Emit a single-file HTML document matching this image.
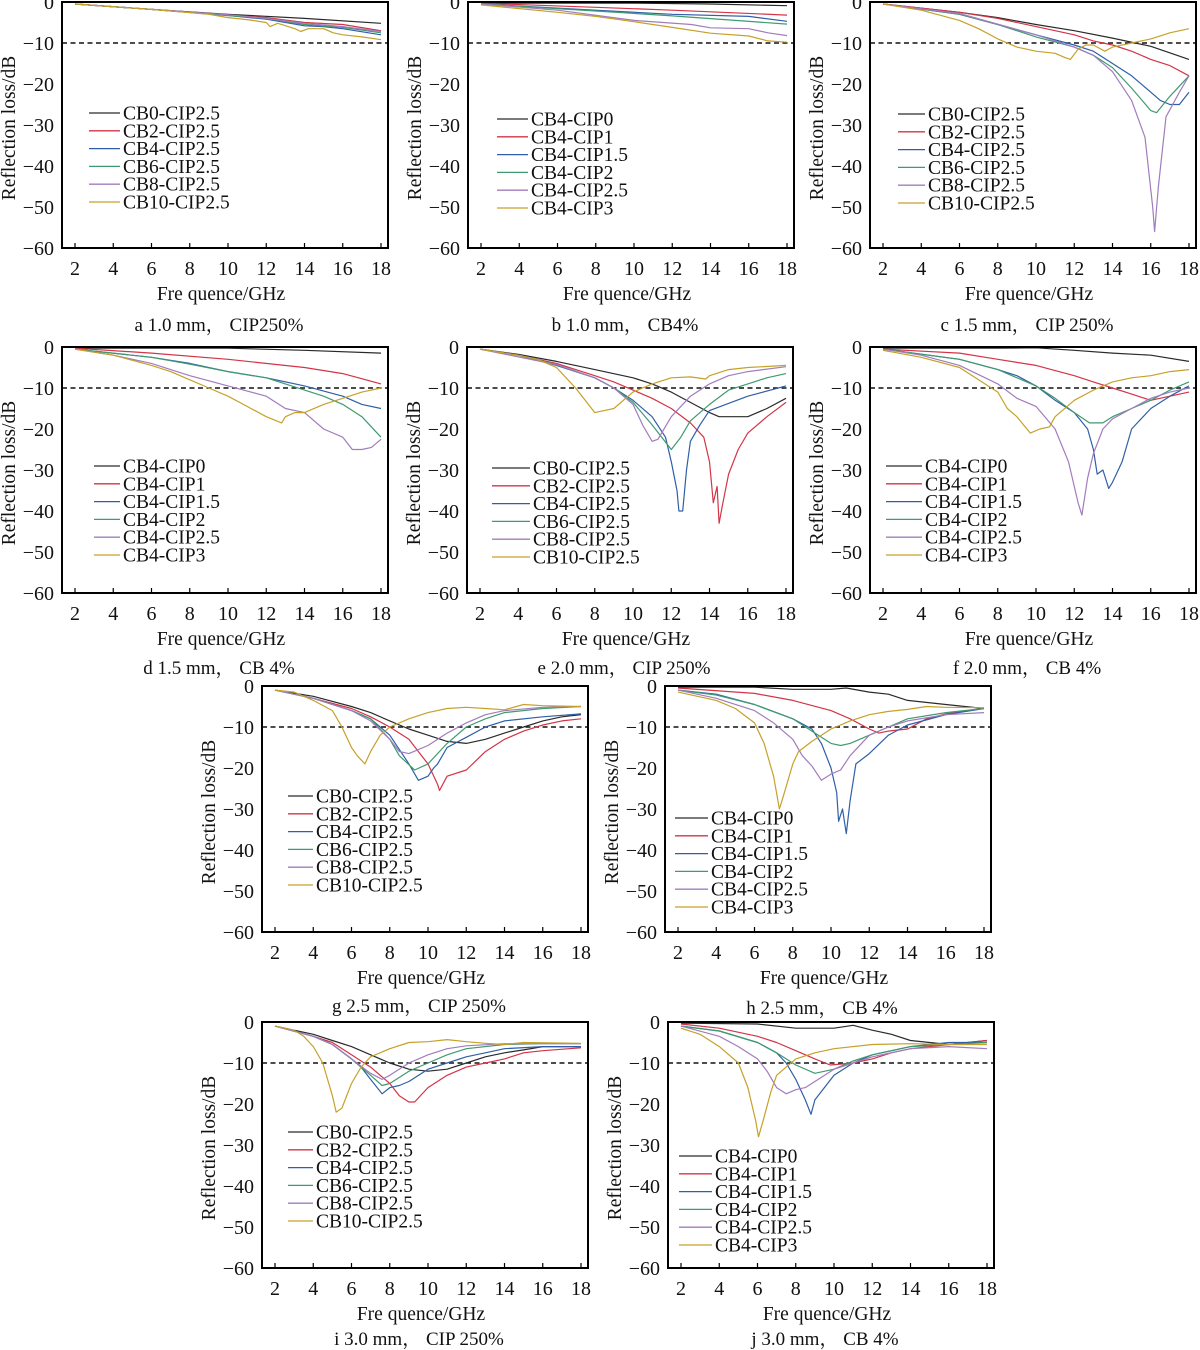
<!DOCTYPE html>
<html><head><meta charset="utf-8"><style>
html,body{margin:0;padding:0;background:#fff;}
svg{display:block;font-family:"Liberation Serif",serif;}
</style></head><body>
<svg id="fig" width="1200" height="1350" viewBox="0 0 1200 1350" xmlns="http://www.w3.org/2000/svg"></svg>
<script>
const xTicks = [2,4,6,8,10,12,14,16,18];
const yTicks = [0,-10,-20,-30,-40,-50,-60];
const cbNames = ["CB0-CIP2.5","CB2-CIP2.5","CB4-CIP2.5","CB6-CIP2.5","CB8-CIP2.5","CB10-CIP2.5"];
const cipNames = ["CB4-CIP0","CB4-CIP1","CB4-CIP1.5","CB4-CIP2","CB4-CIP2.5","CB4-CIP3"];
const colors = ["#2a2a2a","#d33447","#2f5fa8","#3f9a70","#a27cbc","#c6a12a"];

const dataA = [
 [[2,-0.5],[6,-1.8],[10,-3],[14,-4],[18,-5.2]],
 [[2,-0.5],[6,-1.8],[10,-3.2],[12,-3.8],[14,-5],[16,-5.5],[18,-7]],
 [[2,-0.5],[6,-1.8],[10,-3.3],[12,-4.2],[14,-5.8],[15,-6],[16,-6.5],[18,-8]],
 [[2,-0.5],[6,-1.8],[10,-3.3],[12,-4],[14,-5.5],[16,-6.2],[18,-7.5]],
 [[2,-0.5],[6,-1.8],[10,-3.1],[12,-4],[14,-5.2],[16,-6],[18,-7.2]],
 [[2,-0.5],[6,-1.8],[9,-3],[10,-3.8],[11,-4.3],[12,-5],[12.2,-6],[12.6,-5.2],[13.5,-6.5],[13.8,-7.2],[14.2,-6.5],[15,-6.5],[15.5,-7.5],[16,-8],[17,-8.5],[18,-9.2]]
];
const dataB = [
 [[2,-0.3],[10,-0.3],[14,-0.5],[18,-0.9]],
 [[2,-0.3],[8,-1.3],[12,-2],[18,-3.2]],
 [[2,-0.5],[8,-2],[12,-3],[16,-3.5],[18,-4.7]],
 [[2,-0.5],[8,-2.2],[12,-3.4],[18,-5.4]],
 [[2,-0.5],[6,-2],[10,-4.5],[13,-5.5],[14,-6.3],[16,-6.5],[17,-7.5],[18,-8.2]],
 [[2,-0.7],[6,-2.5],[8,-3.5],[10,-4.8],[12,-6.2],[14,-7.6],[16,-8.3],[17,-9.5],[18,-9.8]]
];
const dataC = [
 [[2,-0.5],[6,-2.5],[8,-3.8],[10,-5.5],[12,-7],[14,-8.8],[16,-10.8],[18,-14]],
 [[2,-0.5],[6,-2.5],[8,-4],[10,-6],[12,-8],[13,-9.5],[14,-10.5],[15,-12],[16,-14],[17,-15.5],[18,-18]],
 [[2,-0.5],[6,-3],[8,-5.5],[10,-8],[12,-10.5],[13,-12],[14,-15],[15,-18],[16,-22],[16.5,-24],[17,-25],[17.5,-25],[18,-22]],
 [[2,-0.5],[6,-3],[8,-5.5],[10,-8.5],[12,-11],[13,-13],[14,-16],[15,-21],[16,-26.5],[16.3,-27],[17,-23],[18,-18]],
 [[2,-0.5],[6,-2.8],[10,-8],[12,-11],[13,-13],[14,-17],[15,-24],[15.7,-33],[16.1,-50],[16.2,-56],[16.4,-45],[16.8,-28],[17.5,-22],[18,-18]],
 [[2,-0.5],[4,-2],[6,-4.5],[7,-6.5],[8,-9],[9,-11],[10,-12],[11,-12.5],[11.5,-13.5],[11.8,-14],[12.2,-11.5],[12.6,-10.5],[13,-10.5],[13.6,-12],[14,-11],[15,-10],[16,-9],[17,-7.5],[18,-6.5]]
];
const dataD = [
 [[2,-0.3],[10,-0.3],[14,-0.8],[18,-1.5]],
 [[2,-0.3],[6,-1.5],[10,-3],[14,-5],[16,-6.5],[18,-9]],
 [[2,-0.5],[6,-2.5],[8,-4],[10,-6],[12,-7.5],[14,-9.5],[16,-12],[17,-14],[18,-15]],
 [[2,-0.5],[6,-2.5],[8,-4.2],[10,-6],[12,-7.5],[13,-9],[14,-10.5],[15,-12],[16,-14],[17,-17],[18,-22]],
 [[2,-0.5],[4,-2],[6,-4],[8,-7],[10,-9.5],[12,-12],[13,-15],[14,-16],[15,-20],[16,-22],[16.5,-25],[17,-25],[17.5,-24.5],[18,-22.5]],
 [[2,-0.5],[4,-2],[6,-4.5],[7,-6],[8,-8],[9,-10],[10,-12],[11,-14.5],[12,-17],[12.8,-18.5],[13,-17],[13.5,-16],[14,-16],[15,-14],[16,-12.5],[17,-11],[18,-10]]
];
const dataE = [
 [[2,-0.5],[4,-1.8],[6,-3.5],[8,-5.5],[10,-7.5],[11,-9],[12,-11],[13,-13.5],[14,-16],[14.5,-17],[15,-17],[16,-17],[17,-15],[18,-12.5]],
 [[2,-0.5],[4,-2],[6,-4],[8,-7],[9,-8.5],[10,-10.5],[11,-12.5],[12,-15],[13,-18.5],[13.7,-22],[14,-28],[14.2,-38],[14.4,-34],[14.5,-43],[14.7,-38],[15,-31],[15.5,-25],[16,-21],[17,-17],[18,-13.5]],
 [[2,-0.5],[4,-2],[6,-4.5],[8,-7.5],[9,-10],[10,-13],[11,-17],[11.7,-22],[12,-28],[12.3,-35],[12.4,-40],[12.6,-40],[12.8,-30],[13,-23],[13.5,-19],[14,-15.5],[16,-12],[18,-9.5]],
 [[2,-0.5],[4,-2],[6,-4.3],[8,-7.5],[9,-10],[10,-13.5],[11,-19],[11.5,-22],[12,-25],[12.5,-22],[13,-18],[14,-14],[15,-10.5],[16,-9],[17,-7.5],[18,-6.5]],
 [[2,-0.5],[6,-4.3],[8,-7.5],[9,-10],[10,-14],[10.5,-19],[11,-23],[11.3,-22.5],[12,-17],[13,-12],[14,-9],[15,-7],[16,-6],[18,-4.8]],
 [[2,-0.5],[4,-2],[5,-3],[6,-5],[7,-10],[7.5,-13],[8,-16],[8.5,-15.5],[9,-15],[10,-11],[11,-9],[12,-7.5],[13,-7.3],[13.8,-7.8],[14,-7],[15,-5.5],[16,-5],[18,-4.5]]
];
const dataF = [
 [[2,-0.3],[8,-0.3],[10,-0.2],[12,-0.8],[14,-1.5],[16,-2],[18,-3.5]],
 [[2,-0.5],[6,-1.5],[8,-3],[10,-4.5],[12,-7],[13,-8.5],[14,-10],[15,-11.5],[16,-13],[17,-12],[18,-11]],
 [[2,-0.5],[6,-3],[8,-5.5],[9,-7],[10,-9.5],[11,-13],[12,-16],[12.7,-20],[13,-25],[13.2,-31],[13.5,-30],[13.8,-34.5],[14,-33],[14.5,-28],[15,-20],[16,-15],[17,-12],[18,-9.5]],
 [[2,-0.5],[6,-3],[8,-5.5],[10,-9.5],[11,-12.5],[12,-16],[12.8,-18.5],[13.5,-18.5],[14,-17],[15,-15],[16,-13],[17,-10.5],[18,-8.5]],
 [[2,-0.5],[4,-2],[6,-4.5],[8,-9],[9,-12.5],[10,-14.5],[11,-20],[11.7,-28],[12.2,-38],[12.4,-41],[12.7,-32],[13,-26],[13.5,-20],[14,-17.5],[15,-15],[16,-12.5],[17,-11],[18,-10]],
 [[2,-0.8],[4,-2.5],[6,-5],[7,-8],[8,-11],[8.5,-15],[9,-17],[9.7,-21],[10.2,-20],[10.7,-19.5],[11,-17],[12,-13],[13,-10.5],[14,-8.5],[15,-7.5],[16,-7],[17,-6],[18,-5.5]]
];
const dataG = [
 [[2,-1],[4,-2.5],[6,-5],[7,-6.5],[8,-8.5],[9,-10.5],[10,-12],[11,-13.5],[12,-14],[13,-13],[14,-11.5],[15,-10],[16,-8.5],[17,-7.5],[18,-7]],
 [[2,-1],[4,-3],[6,-5.5],[7,-7.5],[8,-10],[9,-13],[9.5,-16],[10,-19],[10.5,-24],[10.6,-25.5],[11,-22],[12,-20.5],[13,-16],[14,-13],[15,-11],[16,-9.5],[17,-8.5],[18,-8]],
 [[2,-1],[4,-3],[6,-6],[7,-8],[8,-12],[9,-19],[9.5,-23],[10,-22],[10.3,-20],[10.5,-19],[11,-15],[12,-12.5],[13,-10],[14,-8.5],[16,-7.5],[18,-6.8]],
 [[2,-1],[4,-3],[6,-6],[7,-8],[8,-13],[8.5,-17],[9.3,-20.5],[10,-19],[11,-14],[12,-10],[13,-8],[14,-6.5],[16,-5.5],[18,-5]],
 [[2,-1],[4,-3],[6,-6],[7,-8.5],[8,-13],[8.5,-16],[9,-16.5],[10,-14.5],[11,-11.5],[12,-9],[13,-7],[14,-6],[16,-5.2],[18,-5]],
 [[2,-1],[3,-1.5],[4,-3.5],[5,-6],[5.5,-10],[6,-15],[6.3,-17],[6.7,-19],[7,-16],[7.5,-12],[8,-10],[9,-8],[10,-6.5],[11,-5.5],[12,-5.2],[13,-5.5],[14,-5.8],[15,-4.5],[16,-4.8],[18,-5]]
];
const dataH = [
 [[2,-0.3],[6,-0.3],[8,-0.8],[10,-0.8],[10.8,-0.5],[12,-1.5],[13,-2],[14,-3.5],[16,-4.5],[18,-5.5]],
 [[2,-0.5],[6,-1.8],[8,-3.5],[10,-6],[11,-8],[12,-10.5],[12.5,-11.5],[13,-11],[14,-10.5],[15,-8],[16,-6.8],[18,-5.5]],
 [[2,-1],[4,-2],[6,-4.5],[8,-8],[9,-10.5],[9.5,-14],[10,-20],[10.3,-26],[10.4,-33],[10.6,-30],[10.7,-33],[10.8,-36],[11,-28],[11.3,-19],[12,-16.5],[13,-12],[14,-9.5],[16,-7],[18,-5.5]],
 [[2,-1],[4,-2.2],[6,-4.5],[8,-8],[9,-11],[10,-14],[10.5,-14.5],[11,-14],[12,-12],[13,-10],[14,-8],[16,-6.5],[18,-5.5]],
 [[2,-1],[4,-3],[6,-6],[7,-9],[8,-13],[8.5,-17],[9,-19.5],[9.5,-23],[10,-21.5],[10.5,-20.5],[11,-17],[12,-12],[13,-10],[14,-8.5],[16,-7],[18,-6.5]],
 [[2,-1.5],[4,-3.5],[5,-5.5],[6,-9],[6.5,-14],[7,-22],[7.3,-30],[7.5,-27],[8,-19],[8.3,-16],[9,-13.5],[10,-10.5],[11,-8.5],[12,-7],[13,-6.2],[14,-5.7],[15,-5],[16,-5.2],[18,-5.3]]
];
const dataI = [
 [[2,-1],[4,-3],[5,-4.5],[6,-6],[7,-8],[8,-10],[9,-11.5],[10,-12],[11,-11.5],[12,-10],[13,-8.5],[14,-7.5],[15,-6.8],[16,-6],[18,-6]],
 [[2,-1],[4,-3.5],[5,-5],[6,-8],[6.5,-9.5],[7,-11],[8,-15],[8.5,-18],[9,-19.5],[9.3,-19.5],[10,-16],[11,-13],[12,-11],[13,-10],[14,-9],[15,-7.5],[16,-7],[18,-6.3]],
 [[2,-1],[4,-3.5],[5,-5.5],[6,-9],[6.5,-11],[7,-14],[7.6,-17.5],[8,-16],[8.5,-15.5],[9,-14.5],[10,-11.5],[11,-10],[12,-8.5],[13,-7.5],[14,-6.5],[16,-6],[18,-6]],
 [[2,-1],[4,-3.5],[5,-5.5],[6,-9],[7,-13],[7.6,-15.5],[8,-15],[9,-12],[10,-10],[11,-8],[12,-6.5],[14,-5.5],[16,-5.3],[18,-5.3]],
 [[2,-1],[4,-3.5],[5,-5.5],[6,-9],[7,-12.5],[7.6,-14],[8,-13],[9,-10],[10,-8],[11,-6.5],[12,-5.8],[14,-5.3],[18,-5.3]],
 [[2,-1],[3,-2],[3.5,-3.5],[4,-6],[4.5,-10],[5,-18],[5.2,-22],[5.5,-21],[6,-15],[6.5,-11],[7,-8.5],[8,-6.5],[9,-5],[10,-4.8],[11,-4.3],[12,-4.8],[13,-5.2],[14,-5.5],[15,-5],[18,-5.2]]
];
const dataJ = [
 [[2,-0.3],[6,-0.5],[8,-1.5],[10,-1.5],[11,-0.8],[12,-2],[13,-3],[14,-4.5],[15,-5],[16,-5.5],[18,-4.5]],
 [[2,-0.5],[4,-1.5],[6,-3.5],[7,-5],[8,-7],[9,-9],[9.8,-10.5],[11,-10],[12,-9],[13,-7.5],[14,-6.5],[16,-5.5],[18,-4.5]],
 [[2,-1],[4,-2.2],[6,-5],[7,-7.5],[7.5,-10],[8,-14],[8.5,-19],[8.8,-22.5],[9,-19],[10,-13],[11,-10],[12,-8],[14,-6],[16,-5],[18,-5]],
 [[2,-1],[4,-2.2],[6,-5],[7,-7.5],[8,-10.5],[9,-12.5],[10,-11.5],[11,-9.5],[12,-8],[14,-6],[16,-5.5],[18,-5]],
 [[2,-1],[4,-3.5],[5,-6],[6,-9],[6.5,-12],[7,-16],[7.5,-17.5],[8,-16.5],[8.5,-16],[9,-14.5],[10,-11.5],[11,-10],[12,-8.5],[14,-6.5],[16,-6],[18,-6.5]],
 [[2,-1.5],[3,-3],[4,-6],[5,-10],[5.5,-16],[5.9,-24],[6.05,-28],[6.3,-24],[6.7,-17],[7,-13],[7.5,-11],[8,-9],[9,-7.5],[10,-6.5],[12,-5.5],[14,-5.3],[16,-5.5],[18,-5.5]]
];

const NS = "http://www.w3.org/2000/svg";
const svg = document.getElementById('fig');
function mk(tag, attrs, parent){
  const e = document.createElementNS(NS, tag);
  for (const k in attrs) e.setAttribute(k, attrs[k]);
  (parent||svg).appendChild(e);
  return e;
}
const panels = [
 {id:'a', L:62, T:2, data:dataA, names:cbNames, lx:89, ll:31, ly:113, cap:"a  1.0 mm，  CIP250%", cy:83},
 {id:'b', L:468, T:2, data:dataB, names:cipNames, lx:497, ll:31, ly:119, cap:"b  1.0 mm，  CB4%", cy:83},
 {id:'c', L:870, T:2, data:dataC, names:cbNames, lx:898, ll:27, ly:114, cap:"c  1.5 mm，  CIP 250%", cy:83},
 {id:'d', L:62, T:347, data:dataD, names:cipNames, lx:94, ll:26, ly:466, cap:"d  1.5 mm，  CB 4%", cy:81},
 {id:'e', L:467, T:347, data:dataE, names:cbNames, lx:492, ll:38, ly:468, cap:"e  2.0 mm，  CIP 250%", cy:81},
 {id:'f', L:870, T:347, data:dataF, names:cipNames, lx:886, ll:36, ly:466, cap:"f  2.0 mm，  CB 4%", cy:81},
 {id:'g', L:262, T:686, data:dataG, names:cbNames, lx:288, ll:25, ly:796, cap:"g   2.5 mm，  CIP 250%", cy:80},
 {id:'h', L:665, T:686, data:dataH, names:cipNames, lx:675, ll:33, ly:818, cap:"h   2.5 mm，  CB 4%", cy:82},
 {id:'i', L:262, T:1022, data:dataI, names:cbNames, lx:288, ll:25, ly:1132, cap:"i   3.0 mm，  CIP 250%", cy:77},
 {id:'j', L:668, T:1022, data:dataJ, names:cipNames, lx:679, ll:33, ly:1156, cap:"j   3.0 mm，  CB 4%", cy:77}
];
const W = 326, H = 246;
panels.forEach(p => {
  const g = mk('g', {});
  
  
  const xs = f => p.L + 13 + (f - 2) / 16 * 306;
  const ys = v => p.T + (-v) / 60 * H;
  const clip = mk('clipPath', {id:'clip'+p.id}, g);
  mk('rect', {x:p.L, y:p.T, width:W, height:H}, clip);
  const ref = mk('line', {x1:p.L, x2:p.L+W, y1:ys(-10), y2:ys(-10), stroke:'#111', 'stroke-width':1.4, 'stroke-dasharray':'5,3.5'}, g);
  
  
  p.data.forEach((s, i) => {
    const d = s.map((pt, k) => (k ? 'L' : 'M') + xs(pt[0]).toFixed(1) + ' ' + ys(pt[1]).toFixed(1)).join(' ');
    const path = mk('path', {d:d, fill:'none', stroke:colors[i], 'stroke-width':1.2, 'stroke-linejoin':'round', 'clip-path':'url(#clip'+p.id+')'}, g);
    
    
  });
  const fr = mk('rect', {x:p.L, y:p.T, width:W, height:H, fill:'none', stroke:'#000', 'stroke-width':2}, g);
  
  
  xTicks.forEach(t => {
    mk('line', {x1:xs(t), x2:xs(t), y1:p.T+H, y2:p.T+H-5, stroke:'#000', 'stroke-width':1.2}, g);
    const tx = mk('text', {x:xs(t), y:p.T+H+27, 'text-anchor':'middle', 'font-size':20, fill:'#111'}, g);
    tx.textContent = t;
    
    
  });
  yTicks.forEach(t => {
    const ty = mk('text', {x:p.L-8, y:ys(t)+7, 'text-anchor':'end', 'font-size':20, fill:'#111'}, g);
    ty.textContent = t === 0 ? '0' : '\u2212' + Math.abs(t);
    
    
  });
  const xt = mk('text', {x:p.L+W/2-4, y:p.T+H+52, 'text-anchor':'middle', 'font-size':19.5, fill:'#111'}, g);
  xt.textContent = 'Fre quence/GHz';
  
  
  const cy = p.T + H/2 + 3, cx = p.L - 47;
  const yt = mk('text', {x:cx, y:cy, 'text-anchor':'middle', 'font-size':19.5, fill:'#111', transform:'rotate(-90 '+cx+' '+cy+')'}, g);
  yt.textContent = 'Reflection loss/dB';
  
  
  const cap = mk('text', {x:p.L+W/2-6, y:p.T+H+p.cy, 'text-anchor':'middle', 'font-size':19, fill:'#111', 'font-family':'"Liberation Serif","Noto Serif CJK SC",serif', 'xml:space':'preserve'}, g);
  cap.textContent = p.cap;
  
  
  p.names.forEach((n, i) => {
    const y = p.ly + i * 17.8;
    const le = mk('g', {}, g);
    
    
    mk('line', {x1:p.lx, x2:p.lx+p.ll, y1:y, y2:y, stroke:colors[i], 'stroke-width':1.3}, le);
    const lt = mk('text', {x:p.lx+p.ll+3, y:y+6.5, 'font-size':19.5, fill:'#111'}, le);
    lt.textContent = n;
  });
});
</script>
</body></html>
